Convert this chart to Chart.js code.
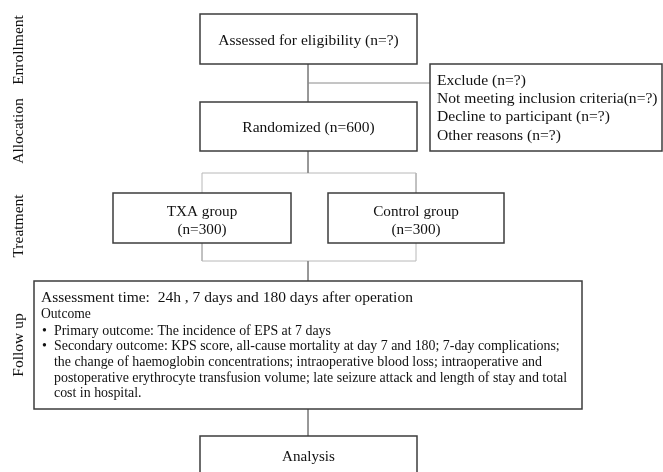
<!DOCTYPE html>
<html>
<head>
    <meta charset="UTF-8">
    <title>Flow chart</title>
    <script src="https://cdn.jsdelivr.net/npm/chart.js"></script>
    <style>
        html, body { margin: 0; padding: 0; background: #fff; }
        #flow { display: block; }
    </style>
</head>
<body>
    <canvas id="flow" width="663" height="472"></canvas>

    <script>
        // 阶段标签（左侧竖排）
        const stageLabels = ['Enrollment', 'Allocation', 'Treatment', 'Follow up'];
        const stageY = [50, 131, 226, 345];

        // 各框文字
        const eligibilityText = ['Assessed for eligibility (n=?)'];
        const randomizedText = ['Randomized (n=600)'];
        const txaText = ['TXA group', '(n=300)'];
        const controlText = ['Control group', '(n=300)'];
        const excludeText = [
            'Exclude (n=?)',
            'Not meeting inclusion criteria(n=?)',
            'Decline to participant (n=?)',
            'Other reasons (n=?)'
        ];
        const followHead = 'Assessment time:  24h , 7 days and 180 days after operation';
        const followSub = 'Outcome';
        const followBullets = [
            ['Primary outcome: The incidence of EPS at 7 days'],
            ['Secondary outcome: KPS score, all-cause mortality at day 7 and 180; 7-day complications;',
             'the change of haemoglobin concentrations; intraoperative blood loss; intraoperative and',
             'postoperative erythrocyte transfusion volume; late seizure attack and length of stay and total',
             'cost in hospital.']
        ];
        const analysisText = ['Analysis'];

        // 框的位置（坐标轴单位）: [x0, y0, x1, y1]
        const boxLayout = {
            eligibility: [200, 14, 417, 64],
            exclude: [430, 64, 662, 151],
            randomized: [200, 102, 417, 151],
            txa: [113, 193, 291, 243],
            control: [328, 193, 504, 243],
            follow: [34, 281, 582, 409],
            analysis: [200, 436, 417, 490]
        };

        // 连接线（坐标轴单位）
        const darkLinks = [
            [[308, 64], [308, 102]],
            [[308, 83], [430, 83]],
            [[308, 151], [308, 173]],
            [[308, 261], [308, 281]],
            [[308, 409], [308, 436]]
        ];
        const lightLinks = [
            [[202, 193], [202, 173], [416, 173], [416, 193]],
            [[202, 243], [202, 261], [416, 261], [416, 243]]
        ];

        const serif = '"Liberation Serif", "Times New Roman", serif';

        function linkDataset(pts, color) {
            return {
                data: pts.map(p => ({ x: p[0], y: p[1] })),
                showLine: true,
                borderColor: color,
                borderWidth: 1,
                pointRadius: 0,
                pointHoverRadius: 0,
                fill: false,
                tension: 0
            };
        }

        const datasets = [];
        darkLinks.forEach(l => datasets.push(linkDataset(l, '#8a8a8a')));
        lightLinks.forEach(l => datasets.push(linkDataset(l, '#b8b8b8')));

        function drawText(ctx, text, x, y, size, align) {
            ctx.save();
            ctx.font = size + 'px ' + serif;
            ctx.textAlign = align;
            ctx.textBaseline = 'middle';
            ctx.fillStyle = '#111';
            ctx.fillText(text, x, y);
            ctx.restore();
        }

        // 画框和文字的插件
        const flowPlugin = {
            id: 'flowBoxes',
            afterDatasetsDraw(chart) {
                const ctx = chart.ctx;
                const xs = chart.scales.x, ys = chart.scales.y;
                const px = v => xs.getPixelForValue(v);
                const py = v => ys.getPixelForValue(v);

                ctx.save();
                ctx.strokeStyle = '#3c3c3c';
                ctx.lineWidth = 1.5;
                Object.values(boxLayout).forEach(b => {
                    const x0 = px(b[0]), y0 = py(b[1]), x1 = px(b[2]), y1 = py(b[3]);
                    ctx.fillStyle = '#fff';
                    ctx.fillRect(x0, y0, x1 - x0, y1 - y0);
                    ctx.strokeRect(x0, y0, x1 - x0, y1 - y0);
                });
                ctx.restore();

                const cx = b => px((b[0] + b[2]) / 2);

                drawText(ctx, eligibilityText[0], cx(boxLayout.eligibility), py(41), 15.5, 'center');
                drawText(ctx, randomizedText[0], cx(boxLayout.randomized), py(128), 15.5, 'center');
                txaText.forEach((t, i) => drawText(ctx, t, cx(boxLayout.txa), py(212 + i * 18), 15.2, 'center'));
                controlText.forEach((t, i) => drawText(ctx, t, cx(boxLayout.control), py(212 + i * 18), 15.2, 'center'));
                excludeText.forEach((t, i) => drawText(ctx, t, px(437), py(81 + i * 18.2), 15.6, 'left'));
                drawText(ctx, analysisText[0], cx(boxLayout.analysis), py(457), 15.1, 'center');

                // 随访框
                drawText(ctx, followHead, px(41), py(298), 15.5, 'left');
                drawText(ctx, followSub, px(41), py(314), 13.6, 'left');
                let row = 0;
                followBullets.forEach(lines => {
                    drawText(ctx, '•', px(42), py(331 + row * 15.7), 13.9, 'left');
                    lines.forEach(t => {
                        drawText(ctx, t, px(54), py(331 + row * 15.7), 13.9, 'left');
                        row++;
                    });
                });

                // 左侧阶段标签
                stageLabels.forEach((t, i) => {
                    ctx.save();
                    ctx.translate(px(19), py(stageY[i]));
                    ctx.rotate(-Math.PI / 2);
                    drawText(ctx, t, 0, 0, 15.5, 'center');
                    ctx.restore();
                });
            }
        };

        const chart = new Chart(document.getElementById('flow'), {
            type: 'scatter',
            data: { datasets: datasets },
            options: {
                responsive: false,
                animation: false,
                layout: { padding: 0 },
                plugins: {
                    legend: { display: false },
                    tooltip: { enabled: false }
                },
                scales: {
                    x: { type: 'linear', min: 0, max: 663, display: false },
                    y: { type: 'linear', min: 0, max: 472, reverse: true, display: false }
                },
                events: []
            },
            plugins: [flowPlugin]
        });
    </script>
</body>
</html>
